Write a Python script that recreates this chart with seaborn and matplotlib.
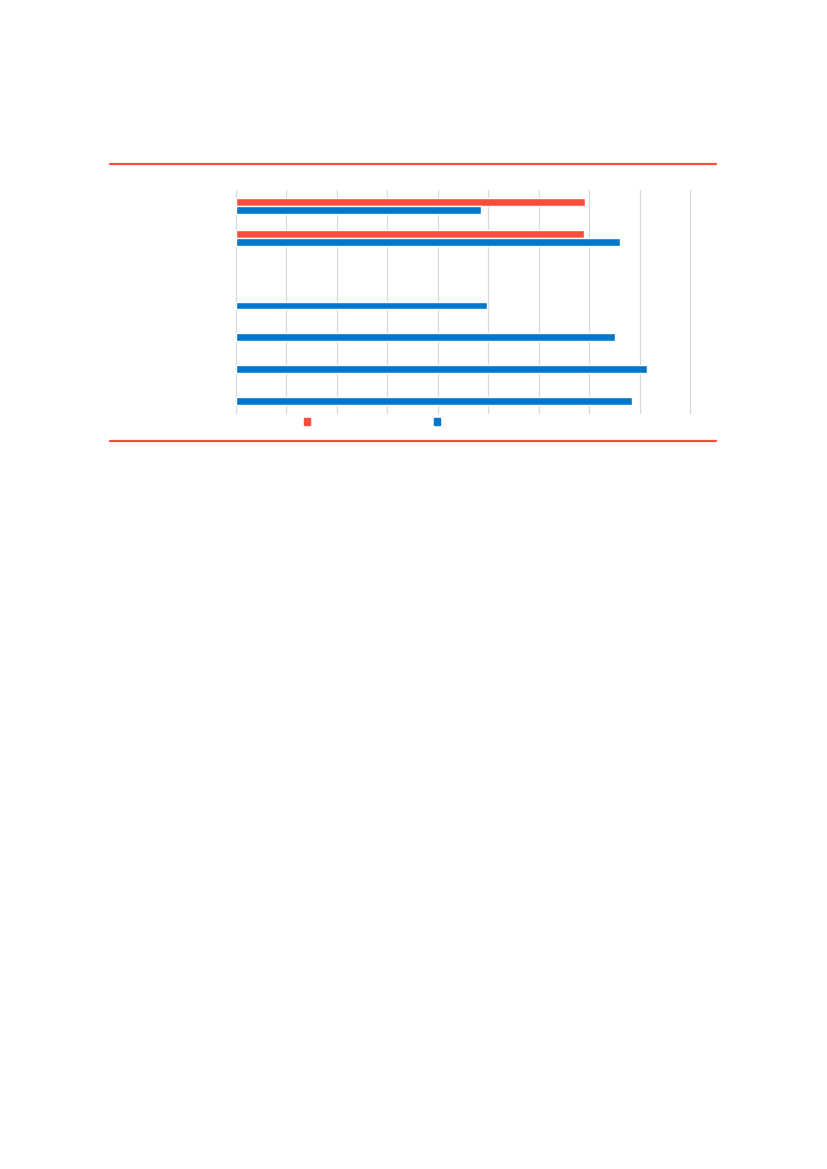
import pandas as pd
import matplotlib.pyplot as plt
import seaborn as sns
from matplotlib.lines import Line2D
from matplotlib.patches import Patch

# datos (el original no muestra textos)
categorias = ["c1", "c2", "c3", "c4", "c5", "c6", "c7"]
serie_roja = [6.92, 6.90, None, None, None, None, None]
serie_azul = [4.85, 7.62, None, 4.97, 7.52, 8.15, 7.86]
series = ["a", "b"]
colores = ["#F84C3C", "#0077CC"]

df = pd.DataFrame({
    "categoria": categorias * 2,
    "valor": serie_roja + serie_azul,
    "serie": [series[0]] * 7 + [series[1]] * 7,
})

sns.set_style("white")
fig = plt.figure(figsize=(8.27, 11.69), dpi=100)
ax = fig.add_axes([236 / 827, 1 - 413 / 1169, (690 - 236) / 827, (413 - 190) / 1169])

sns.barplot(data=df, x="valor", y="categoria", hue="serie", order=categorias,
            hue_order=series, palette=colores, width=0.5, orient="h",
            saturation=1, ax=ax, legend=False)

ax.set_xlim(0, 9)
ax.set_xticks(range(0, 10))
ax.xaxis.grid(True, color="#d9d9d9", linewidth=0.9)
for g in ax.get_xgridlines():
    g.set_clip_on(False)
ax.set_axisbelow(True)
ax.set_xticklabels([])
ax.set_yticklabels([])
ax.set_xlabel("")
ax.set_ylabel("")
ax.tick_params(length=0)
sns.despine(ax=ax, left=True, bottom=True)

# leyenda solo con los cuadritos
handles = [Patch(color=c) for c in colores]
fig.legend(handles, ["", ""], ncol=2, loc="center",
           bbox_to_anchor=(372 / 827, 1 - 422 / 1169), frameon=False,
           handlelength=0.45, handleheight=0.4, handletextpad=0,
           columnspacing=8.9, borderpad=0)

# lineas rojas arriba y abajo
for y in [164, 441]:
    fig.add_artist(Line2D([110 / 827, 716 / 827], [1 - y / 1169] * 2,
                          color="#F84C3C", linewidth=1.6,
                          transform=fig.transFigure))

plt.savefig("out.png", dpi=100)
